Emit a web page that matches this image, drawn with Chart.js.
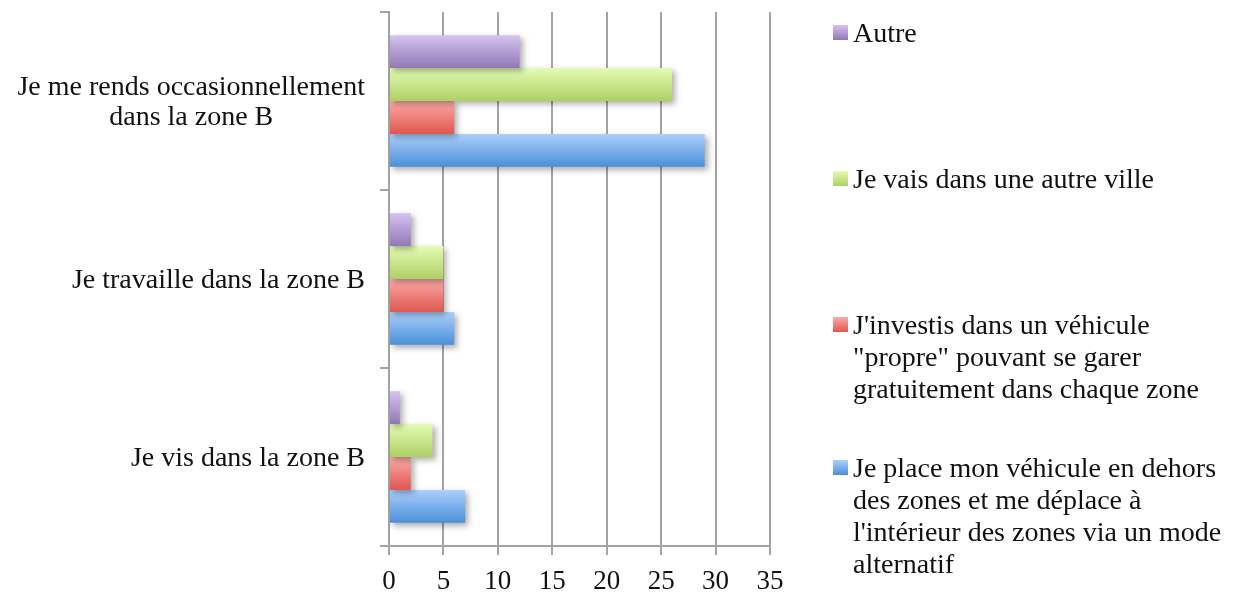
<!DOCTYPE html>
<html>
<head>
<meta charset="utf-8">
<script src="https://cdn.jsdelivr.net/npm/chart.js@4/dist/chart.umd.min.js"></script>
<style>
  html, body { margin: 0; padding: 0; background: #fff; }
  #wrap { position: relative; width: 1242px; height: 597px; }
  #c { position: absolute; left: 0; top: 0; }
  .leg { position: absolute; left: 853px; font-family: "Liberation Serif", serif; font-size: 28px; line-height: 32px; color: #111; white-space: nowrap; }
  .sw { position: absolute; left: 833px; width: 15px; height: 15px; }
</style>
</head>
<body>
<div id="wrap">
  <canvas id="c" width="1242" height="597"></canvas>
</div>
<script>
// Survey answers per situation, counted per response option
const categories = [
  ["Je me rends occasionnellement", "dans la zone B"],
  ["Je travaille dans la zone B"],
  ["Je vis dans la zone B"]
];
const seriesNames = [
  ["Autre"],
  ["Je vais dans une autre ville"],
  ["J'investis dans un véhicule", "\"propre\" pouvant se garer", "gratuitement dans chaque zone"],
  ["Je place mon véhicule en dehors", "des zones et me déplace à", "l'intérieur des zones via un mode", "alternatif"]
];
const autre          = [12, 2, 1];
const autreVille     = [26, 5, 4];
const vehiculePropre = [6, 5, 2];
const modeAlternatif = [29, 6, 7];
const xTicks = [0, 5, 10, 15, 20, 25, 30, 35];

// top / bottom gradient stops for each series
const gradStops = [
  ["#d6c3f2", "#9078b6"],
  ["#e4fcb4", "#aed064"],
  ["#fcaaa6", "#df5750"],
  ["#aad0fc", "#4b8fd9"]
];
const legendTops = [17, 163, 309, 452];

const FONT = "Liberation Serif";
const GRID = "#a3a3a3";

// legend on the right
const wrap = document.getElementById("wrap");
seriesNames.forEach((lines, i) => {
  const d = document.createElement("div");
  d.className = "leg";
  d.style.top = legendTops[i] + "px";
  lines.forEach((ln, j) => {
    if (j) d.appendChild(document.createElement("br"));
    d.appendChild(document.createTextNode(ln));
  });
  wrap.appendChild(d);
  const s = document.createElement("div");
  s.className = "sw";
  s.style.top = (legendTops[i] + 8) + "px";
  s.style.background = "linear-gradient(" + gradStops[i][0] + "," + gradStops[i][1] + ")";
  wrap.appendChild(s);
});

// per-bar vertical gradient and soft drop shadow
const barStyle = {
  id: "barStyle",
  beforeDatasetsDraw(chart) {
    const ctx = chart.ctx;
    chart.data.datasets.forEach((ds, i) => {
      const meta = chart.getDatasetMeta(i);
      meta.data.forEach(bar => {
        const h = bar.height;
        const g = ctx.createLinearGradient(0, bar.y - h / 2, 0, bar.y + h / 2);
        g.addColorStop(0, gradStops[i][0]);
        g.addColorStop(1, gradStops[i][1]);
        bar.options = Object.assign({}, bar.options, { backgroundColor: g });
      });
    });
    ctx.save();
    ctx.shadowColor = "rgba(0,0,0,0.32)";
    ctx.shadowBlur = 6;
    ctx.shadowOffsetX = 3;
    ctx.shadowOffsetY = 3;
  },
  afterDatasetsDraw(chart) {
    chart.ctx.restore();
  }
};

// category labels: right-aligned block, lines centred within it
const catLabels = {
  id: "catLabels",
  afterDraw(chart) {
    const ctx = chart.ctx;
    const y = chart.scales.y;
    const right = 365;
    const lh = 30;
    ctx.save();
    ctx.font = "28px '" + FONT + "'";
    ctx.fillStyle = "#111";
    ctx.textBaseline = "middle";
    ctx.textAlign = "center";
    categories.forEach((lines, i) => {
      const cy = y.getPixelForValue(i);
      const w = Math.max(...lines.map(l => ctx.measureText(l).width));
      const cx = right - w / 2;
      lines.forEach((l, j) => {
        ctx.fillText(l, cx, cy + (j - (lines.length - 1) / 2) * lh + 2);
      });
    });
    ctx.restore();
  }
};

const datasets = [autre, autreVille, vehiculePropre, modeAlternatif].map((vals, i) => ({
  label: seriesNames[i].join(" "),
  data: vals,
  backgroundColor: gradStops[i][1],
  borderWidth: 0,
  barPercentage: 1,
  categoryPercentage: 0.74
}));

new Chart(document.getElementById("c"), {
  type: "bar",
  data: { labels: categories.map(l => l.join(" ")), datasets },
  options: {
    indexAxis: "y",
    responsive: false,
    animation: false,
    devicePixelRatio: 1,
    layout: { padding: { top: 12, right: 472, left: 0, bottom: 0 } },
    plugins: { legend: { display: false }, tooltip: { enabled: false } },
    scales: {
      x: {
        min: 0, max: 35,
        afterBuildTicks(scale) { scale.ticks = xTicks.map(v => ({ value: v })); },
        afterFit(scale) { scale.height = 51; },
        grid: { color: GRID, lineWidth: 2, tickLength: 9, drawTicks: true },
        border: { display: true, color: GRID, width: 2 },
        ticks: { color: "#111", padding: 11, font: { family: FONT, size: 27 } }
      },
      y: {
        offset: true,
        afterFit(scale) { scale.width = 389; },
        grid: { offset: true, drawOnChartArea: false, color: GRID, lineWidth: 2, tickLength: 9 },
        border: { display: true, color: GRID, width: 2 },
        ticks: { display: false }
      }
    }
  },
  plugins: [barStyle, catLabels]
});
</script>
</body>
</html>
